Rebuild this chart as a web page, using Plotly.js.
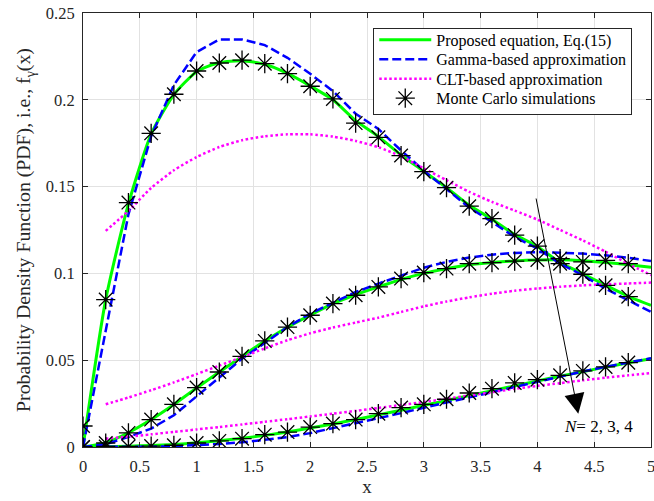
<!DOCTYPE html>
<html>
<head>
<meta charset="utf-8">
<script src="https://cdn.plot.ly/plotly-3.0.1.min.js"></script>
<style>html,body{margin:0;padding:0;background:#fff;}#chart{width:654px;height:501px;}</style>
</head>
<body>
<div id="chart"></div>
<script>
// x grids
const xs    = [0,0.2,0.4,0.6,0.8,1.0,1.2,1.4,1.6,1.8,2.0,2.2,2.4,2.6,2.8,3.0,3.2,3.4,3.6,3.8,4.0,4.2,4.4,4.6,4.8,5.0];
const xClt  = [0.2,0.4,0.6,0.8,1.0,1.2,1.4,1.6,1.8,2.0,2.2,2.4,2.6,2.8,3.0,3.2,3.4,3.6,3.8,4.0,4.2,4.4,4.6,4.8,5.0];
const xMc   = [0,0.2,0.4,0.6,0.8,1.0,1.2,1.4,1.6,1.8,2.0,2.2,2.4,2.6,2.8,3.0,3.2,3.4,3.6,3.8,4.0,4.2,4.4,4.6,4.8];

// Proposed equation, Eq.(15)
const propN2 = [0,0.0849,0.1400,0.1802,0.2030,0.2162,0.2215,0.2225,0.2205,0.2152,0.2080,0.2000,0.1880,0.1788,0.1682,0.1588,0.1494,0.1392,0.1312,0.1224,0.1155,0.1062,0.0998,0.0932,0.0868,0.0816];
const propN3 = [0,0.0025,0.0082,0.0158,0.0245,0.0340,0.0432,0.0522,0.0610,0.0690,0.0760,0.0826,0.0877,0.0922,0.0965,0.1000,0.1027,0.1050,0.1063,0.1072,0.1077,0.1078,0.1073,0.1063,0.1050,0.1035];
const propN4 = [0,0.0002,0.0005,0.0009,0.0015,0.0024,0.0036,0.0050,0.0067,0.0087,0.0110,0.0133,0.0158,0.0185,0.0212,0.0240,0.0268,0.0296,0.0324,0.0352,0.0380,0.0408,0.0434,0.0460,0.0485,0.0509];

// Gamma-based approximation
const gamN2 = [0,0.068,0.134,0.179,0.2085,0.2275,0.2348,0.2348,0.2315,0.2242,0.2150,0.2050,0.1920,0.1832,0.1708,0.1592,0.1488,0.1379,0.1296,0.1210,0.1143,0.1056,0.0989,0.0912,0.0845,0.0778];
const gamN3 = [0,0.0016,0.0058,0.0106,0.0183,0.0292,0.0400,0.0509,0.0599,0.0691,0.0768,0.0830,0.0893,0.0941,0.0989,0.1033,0.1066,0.1091,0.1108,0.1118,0.1123,0.1120,0.1114,0.1104,0.1090,0.1071];
const gamN4 = [0,0,0.0001,0.0002,0.0005,0.0010,0.0017,0.0027,0.0040,0.0057,0.0080,0.0108,0.0136,0.0165,0.0195,0.0226,0.0256,0.0287,0.0318,0.0348,0.0378,0.0407,0.0435,0.0462,0.0487,0.0511];

// CLT-based approximation
const cltN2 = [0.1245,0.1360,0.1492,0.1594,0.1670,0.1728,0.1767,0.1790,0.1801,0.1801,0.1788,0.1763,0.1727,0.1674,0.1605,0.1537,0.1470,0.1412,0.1362,0.1310,0.1250,0.1190,0.1125,0.1055,0.0990];
const cltN3 = [0.0246,0.0285,0.0327,0.0372,0.0420,0.0469,0.0518,0.0568,0.0615,0.0655,0.0688,0.0717,0.0745,0.0778,0.0810,0.0838,0.0862,0.0883,0.0900,0.0913,0.0923,0.0931,0.0937,0.0942,0.0947];
const cltN4 = [0.0048,0.0060,0.0073,0.0087,0.0101,0.0115,0.0130,0.0145,0.0160,0.0176,0.0192,0.0208,0.0225,0.0242,0.0259,0.0278,0.0297,0.0316,0.0335,0.0352,0.0368,0.0384,0.0399,0.0413,0.0426];

// Monte Carlo simulations
const mcN2 = [0.0121,0.0849,0.1408,0.1807,0.2032,0.2166,0.2212,0.2228,0.2208,0.2151,0.2078,0.2005,0.1866,0.1784,0.1679,0.1586,0.1494,0.1387,0.1316,0.1220,0.1157,0.1056,0.0995,0.0931,0.0866];
const mcN3 = [0,0.0023,0.0081,0.0158,0.0246,0.0342,0.0432,0.0522,0.0611,0.0691,0.0759,0.0826,0.0874,0.0922,0.0970,0.1005,0.1028,0.1056,0.1062,0.1071,0.1077,0.1085,0.1066,0.1075,0.1056];
const mcN4 = [0,0.0003,0.0003,0.0005,0.0010,0.0023,0.0035,0.0048,0.0071,0.0086,0.0115,0.0135,0.0158,0.0192,0.0227,0.0246,0.0275,0.0311,0.0336,0.0369,0.0388,0.0413,0.0438,0.0461,0.0486];

const seriesNames = ["Proposed equation, Eq.(15)","Gamma-based approximation","CLT-based approximation","Monte Carlo simulations"];

const FONT = "Liberation Serif, Times New Roman, serif";
const traces = [];
const props = [propN2, propN3, propN4];
const gams = [gamN2, gamN3, gamN4];
const clts = [cltN2, cltN3, cltN4];
const mcs = [mcN2, mcN3, mcN4];

props.forEach((y,i)=>traces.push({x:xs,y:y,type:"scatter",mode:"lines",name:seriesNames[0],showlegend:i===0,
  line:{color:"#00ff00",width:3,shape:"spline",smoothing:0.6},hoverinfo:"skip"}));
gams.forEach((y,i)=>traces.push({x:xs,y:y,type:"scatter",mode:"lines",name:seriesNames[1],showlegend:i===0,
  line:{color:"#0000ff",width:2.5,dash:"9px,4px"},hoverinfo:"skip"}));
clts.forEach((y,i)=>traces.push({x:xClt,y:y,type:"scatter",mode:"lines",name:seriesNames[2],showlegend:i===0,
  line:{color:"#ff00ff",width:2.5,dash:"2.5px,2.5px",shape:"spline",smoothing:0.6},hoverinfo:"skip"}));
mcs.forEach((y,i)=>traces.push({x:xMc,y:y,type:"scatter",mode:"markers",name:seriesNames[3],showlegend:i===0,
  marker:{symbol:"asterisk-open",size:16,color:"#000000",line:{color:"#000000",width:1.3}},hoverinfo:"skip"}));

const axisCommon = {
  showline:true, mirror:"ticks", linecolor:"#262626", linewidth:1,
  ticks:"inside", ticklen:5, tickcolor:"#262626", tickwidth:1,
  showgrid:true, gridcolor:"#e2e2e2", gridwidth:1, zeroline:false,
  ticklabeloverflow:"allow",
  tickfont:{family:FONT,size:16.5,color:"#262626"}
};

const layout = {
  width:654, height:501,
  margin:{l:83,r:3,t:13,b:54},
  paper_bgcolor:"#ffffff", plot_bgcolor:"#ffffff",
  showlegend:true,
  xaxis:Object.assign({}, axisCommon, {range:[0,5], dtick:0.5, tick0:0, ticklabelstandoff:4,
    title:{text:"x", font:{family:FONT,size:19,color:"#262626"}, standoff:2}}),
  yaxis:Object.assign({}, axisCommon, {range:[0,0.25], dtick:0.05, tick0:0, ticklabelstandoff:4,
    title:{text:"Probability Density Function (PDF), i.e., f<sub>γ</sub>(x)", font:{family:FONT,size:19.8,color:"#262626"}, standoff:9}}),
  legend:{x:0.967, y:0.966, xanchor:"right", yanchor:"top", bgcolor:"#ffffff", bordercolor:"#262626", borderwidth:1,
    font:{family:FONT,size:16,color:"#000000"}, tracegroupgap:0, itemwidth:52, traceorder:"normal"},
  annotations:[
    {x:4.36, y:0.0192, ax:3.986, ay:0.144, xref:"x", yref:"y", axref:"x", ayref:"y",
     showarrow:true, arrowhead:2, arrowsize:4, arrowwidth:1, arrowcolor:"#000000", text:""},
    {x:4.54, y:0.0119, xref:"x", yref:"y", showarrow:false,
     text:"<i>N</i>= 2, 3, 4", font:{family:FONT,size:17,color:"#000000"}}
  ]
};

const gd = document.getElementById("chart");
Plotly.newPlot(gd, traces, layout, {displayModeBar:false, staticPlot:true}).then(function(){
  // tighten legend row spacing to match the reference
  const items = Array.from(gd.querySelectorAll(".legend .traces"));
  if (items.length < 2) return;
  const pos = items.map(function(el){
    const m = /translate\(\s*([-\d.eE]+)[ ,]+([-\d.eE]+)\s*\)/.exec(el.getAttribute("transform") || "");
    return m ? [parseFloat(m[1]), parseFloat(m[2])] : null;
  });
  if (pos.some(function(p){return p===null;})) return;
  const gap = 19.5;
  const y0 = pos[0][1] - 6;
  items.forEach(function(el,i){ el.setAttribute("transform","translate("+pos[i][0]+","+(y0+i*gap)+")"); });
  const oldSpan = pos[pos.length-1][1] - pos[0][1];
  const shrink = oldSpan - gap*(items.length-1) + 8;
  const bg = gd.querySelector(".legend rect.bg");
  if (bg) bg.setAttribute("height", parseFloat(bg.getAttribute("height")) - shrink);
});
</script>
</body>
</html>
